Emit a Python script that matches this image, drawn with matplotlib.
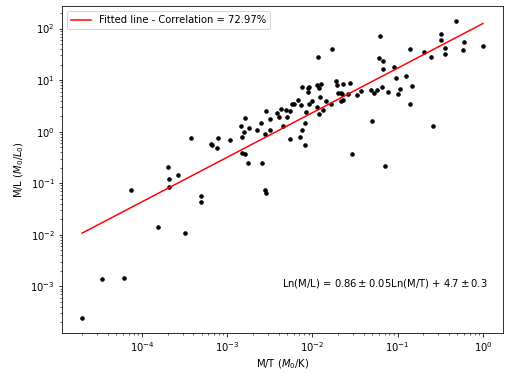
import numpy as np
import matplotlib
matplotlib.use("Agg")
import matplotlib.pyplot as plt

# M/T (M0/K) and M/L (M0/L0) values
mt = [1.98e-5, 3.4e-5, 6.1e-5, 7.5e-5, 1.55e-4, 3.2e-4, 2.0e-4, 2.1e-4, 2.64e-4, 2.08e-4,
      4.9e-4, 4.9e-4, 3.8e-4, 6.4e-4, 6.6e-4, 7.5e-4, 7.7e-4, 1.09e-3, 1.5e-3, 1.58e-3,
      1.46e-3, 1.63e-3, 1.81e-3, 1.5e-3, 1.61e-3, 2.24e-3, 2.5e-3, 2.77e-3, 2.85e-3, 3.17e-3,
      3.17e-3, 3.8e-3, 4.0e-3, 4.25e-3, 4.86e-3, 5.4e-3, 4.57e-3, 4.99e-3, 5.4e-3, 5.8e-3,
      6.1e-3, 6.7e-3, 7.3e-3, 7.45e-3, 8.3e-3, 8.1e-3, 7.45e-3, 7.1e-3, 8.1e-3, 8.75e-3,
      8.9e-3, 9.2e-3, 9.2e-3, 0.010, 0.0114, 0.0119, 0.0127, 0.0124, 0.0114, 0.0119,
      0.0132, 0.0145, 0.0163, 0.019, 0.0193, 0.020, 0.0217, 0.0217, 0.0227, 0.0231,
      0.0276, 0.0221, 0.0259, 0.0333, 0.037, 0.0291, 0.0483, 0.0524, 0.0574, 0.0649,
      0.0761, 0.0497, 0.0703, 0.0615, 0.0599, 0.0667, 0.0667, 0.091, 0.0942, 0.102,
      0.106, 0.126, 0.141, 0.148, 0.141, 0.205, 0.247, 0.260, 0.322, 0.322,
      0.362, 0.362, 0.481, 0.596, 0.58, 1.0, 0.0116, 0.0171, 2.56e-3, 1.76e-3,
      2.75e-3, 2.85e-3]
ml = [2.4e-4, 1.38e-3, 1.44e-3, 0.074, 0.0141, 0.0108, 0.206, 0.121, 0.144, 0.084,
      0.056, 0.043, 0.75, 0.58, 0.55, 0.48, 0.76, 0.69, 0.79, 0.97,
      1.31, 1.85, 1.18, 0.39, 0.37, 1.08, 1.48, 0.90, 2.52, 1.76,
      1.08, 2.31, 1.93, 2.76, 2.67, 2.52, 1.31, 1.93, 0.72, 3.45,
      3.5, 4.18, 3.3, 7.4, 2.37, 1.48, 1.08, 0.79, 0.55, 5.98,
      6.9, 7.4, 3.45, 4.0, 8.07, 7.06, 8.44, 4.63, 3.02, 2.21,
      2.64, 3.88, 3.45, 9.65, 8.07, 5.64, 5.64, 3.88, 4.05, 8.55,
      8.83, 5.47, 5.47, 5.16, 6.17, 0.37, 6.54, 5.64, 6.54, 7.38,
      5.9, 1.61, 0.216, 72.0, 27.0, 23.6, 16.5, 18.0, 11.0, 5.4,
      6.75, 12.1, 40.3, 7.7, 3.45, 35.3, 28.2, 1.29, 78.9, 60.3,
      42.2, 32.3, 141.0, 55.2, 38.6, 46.1, 28.2, 40.3, 0.247, 0.247,
      0.0725, 0.0645]

# Fit parameters (ln-ln)
slope = 0.865
intercept = 4.83
correlation = 72.97
fit_text = r'Ln(M/L) = $0.86 \pm 0.05$Ln(M/T) + $4.7 \pm 0.3$'

mt = np.array(mt)
ml = np.array(ml)

fig = plt.figure(figsize=(510/72, 378/72), dpi=72)
ax = fig.add_axes([62/510, 1-333/378, 441/510, 327/378])

xfit = np.array([mt.min(), mt.max()])
yfit = np.exp(intercept) * xfit**slope
ax.plot(mt, ml, 'o', color='black', markersize=3.5, linestyle='none')
ax.plot(xfit, yfit, color='red', linewidth=1.5,
        label=f'Fitted line - Correlation = {correlation:.2f}%')
ax.set_xscale('log')
ax.set_yscale('log')
ax.set_xlabel(r'M/T ($M_0$/K)')
ax.set_ylabel(r'M/L ($M_0/L_0$)')
ax.legend(loc='upper left')
ax.text(0.499, 0.15, fit_text, transform=ax.transAxes, va='center', ha='left')

fig.savefig('out.png', dpi=72)
